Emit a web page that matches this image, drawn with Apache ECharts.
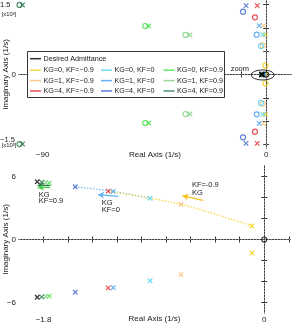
<!DOCTYPE html>
<html><head><meta charset="utf-8">
<script src="https://cdn.jsdelivr.net/npm/echarts@6/dist/echarts.min.js"></script>
<style>html,body{margin:0;padding:0;background:#fff}#c{width:292px;height:326px}</style>
</head><body><div id="c"></div>
<script>
// ---------- DATA (real / imaginary parts in 1/s) ----------
const seriesNames = ['Desired Admittance','KG=0, KF=−0.9','KG=1, KF=−0.9','KG=4, KF=−0.9','KG=0, KF=0','KG=1, KF=0','KG=4, KF=0','KG=0, KF=0.9','KG=1, KF=0.9','KG=4, KF=0.9'];
// poles (x markers)
const polesDesired = [[-1.851, 5.5], [-1.851, -5.5]];
const polesKG0KFm09 = [[-0.3, 856], [-0.3, -856], [-0.1, 1.29], [-0.1, -1.29]];
const polesKG1KFm09 = [[-1.1, 1050], [-1.1, -1050], [-0.679, 3.35], [-0.679, -3.35]];
const polesKG4KFm09 = [[-3.6, 1480], [-3.6, -1480], [-1.272, 4.6], [-1.272, -4.6]];
const polesKG0KF0 = [[-1.3, 856], [-1.3, -856], [-0.931, 3.93], [-0.931, -3.93]];
const polesKG1KF0 = [[-2.8, 1050], [-2.8, -1050], [-1.231, 4.58], [-1.231, -4.58]];
const polesKG4KF0 = [[-8.1, 1480], [-8.1, -1480], [-1.541, 5.02], [-1.541, -5.02]];
const polesKG0KF09 = [[-47.3, 1043], [-47.3, -1043], [-1.753, 5.4], [-1.753, -5.4]];
const polesKG1KF09 = [[-30.7, 850], [-30.7, -850], [-1.782, 5.43], [-1.782, -5.43]];
const polesKG4KF09 = [[-98.1, 1495], [-98.1, -1495], [-1.815, 5.46], [-1.815, -5.46]];
// zeros (o markers)
const zerosDesired = [[0, 0]];
const zerosKG0KFm09 = [[-0.3, 190], [-0.3, -190]];
const zerosKG1KFm09 = [[-1.4, 630], [-1.4, -630]];
const zerosKG4KFm09 = [[-4.5, 1230], [-4.5, -1230]];
const zerosKG0KF0 = [[-2.1, 610], [-2.1, -610]];
const zerosKG1KF0 = [[-3.8, 856], [-3.8, -856]];
const zerosKG4KF0 = [[-9.3, 1350], [-9.3, -1350]];
const zerosKG0KF09 = [[-48.7, 1043], [-48.7, -1043]];
const zerosKG1KF09 = [[-32.5, 850], [-32.5, -850]];
const zerosKG4KF09 = [[-99.3, 1495], [-99.3, -1495]];
// dotted KG trajectories (zoomed plot)
const locusKFm09 = [[-1.272, 4.6], [-0.679, 3.35], [-0.1, 1.29]];
const locusKF0 = [[-1.541, 5.02], [-1.231, 4.58], [-0.931, 3.93]];
// arrows [from, to] in data units (zoomed plot)
const arrowKF09a = [[-1.745, 5.15], [-1.848, 5.15]];
const arrowKF09b = [[-1.745, 4.95], [-1.848, 4.95]];
const arrowKF0 = [[-1.19, 4.11], [-1.355, 4.27]];
const arrowKFm09 = [[-0.5, 3.73], [-0.667, 4.17]];
// tick values
const topXTicks = [-90, -80, -70, -60, -50, -40, -30, -20, -10, 0];
const topXLabels = [-90, 0];
const topYTicks = [-1500, -1000, -500, 0, 500, 1000, 1500];
const topYLabels = [0];
const topYEdgeLabels = [1500, -1500];
const botXTicks = [-1.8, -1.6, -1.4, -1.2, -1.0, -0.8, -0.6, -0.4, -0.2, 0, 0.2];
const botXLabels = [-1.8, 0];
const botYTicks = [-6, -4, -2, 0, 2, 4, 6];
const botYLabels = [-6, 0, 6];

const polesAll = [polesDesired, polesKG0KFm09, polesKG1KFm09, polesKG4KFm09, polesKG0KF0, polesKG1KF0, polesKG4KF0, polesKG0KF09, polesKG1KF09, polesKG4KF09];
const zerosAll = [zerosDesired, zerosKG0KFm09, zerosKG1KFm09, zerosKG4KFm09, zerosKG0KF0, zerosKG1KF0, zerosKG4KF0, zerosKG0KF09, zerosKG1KF09, zerosKG4KF09];

// ---------- STYLE ----------
const COLORS = ['#000000','#f3cf0c','#f7be70','#e3242b','#4fd2f2','#3d9cf0','#3a62cc','#3fe03f','#82cf82','#23784a'];
const FONT = 'Liberation Sans, Arial, sans-serif';
const AX = '#3a3a3a';
const TXT = '#1a1a1a';
const CROSS = 'path://M0,0L10,10M10,0L0,10';

const chart = echarts.init(document.getElementById('c'), null, {renderer: 'canvas'});

function fmtNum(v) { return (v < 0 ? '−' : '') + String(Math.abs(v)); }

function axisCommon(extra) {
  return Object.assign({
    axisLine: {show: true, lineStyle: {color: AX, width: 1}},
    splitLine: {show: false},
    axisLabel: {show: false},
    nameMoveOverlap: false,
    axisTick: {show: true, inside: true, length: 3, lineStyle: {color: AX, width: 1}}
  }, extra);
}
const nameStyle = {fontSize: 8, fontFamily: FONT, color: TXT};

const xAxes = [
  axisCommon({type: 'value', gridIndex: 0, position: 'bottom', min: -99.5, max: 10,
    axisTick: {show: true, inside: true, length: 3, lineStyle: {color: AX}, customValues: topXTicks},
    axisLabel: {show: true, customValues: topXLabels, formatter: fmtNum, fontSize: 8, fontFamily: FONT, color: TXT, margin: 3},
    name: 'Real Axis (1/s)', nameLocation: 'middle', nameGap: 3, nameTextStyle: Object.assign({verticalAlign: 'top'}, nameStyle)}),
  axisCommon({type: 'value', gridIndex: 1, position: 'bottom', min: -2, max: 0.21,
    axisTick: {show: true, inside: true, length: 3, lineStyle: {color: AX}, customValues: botXTicks},
    axisLabel: {show: true, customValues: botXLabels, formatter: fmtNum, fontSize: 8, fontFamily: FONT, color: TXT, margin: 3},
    name: 'Real Axis (1/s)', nameLocation: 'middle', nameGap: 2, nameTextStyle: Object.assign({verticalAlign: 'top'}, nameStyle)}),
  axisCommon({type: 'value', gridIndex: 0, position: 'top', min: -99.5, max: 10,
    axisTick: {show: true, inside: true, length: 3, lineStyle: {color: AX}, customValues: topXTicks}}),
  axisCommon({type: 'value', gridIndex: 1, position: 'top', min: -2, max: 0.21,
    axisTick: {show: true, inside: true, length: 3, lineStyle: {color: AX}, customValues: botXTicks}})
];
const yAxes = [
  axisCommon({type: 'value', gridIndex: 0, position: 'left', min: -1580, max: 1580,
    axisTick: {show: true, inside: true, length: 3, lineStyle: {color: AX}, customValues: topYTicks},
    axisLabel: {show: true, customValues: topYLabels, fontSize: 8, fontFamily: FONT, color: TXT, margin: 3},
    name: 'Imaginary Axis (1/s)', nameLocation: 'middle', nameGap: 9, nameTextStyle: nameStyle}),
  axisCommon({type: 'value', gridIndex: 1, position: 'left', min: -7, max: 7,
    axisTick: {show: true, inside: true, length: 3, lineStyle: {color: AX}, customValues: botYTicks},
    axisLabel: {show: true, customValues: botYLabels, formatter: fmtNum, fontSize: 8, fontFamily: FONT, color: TXT, margin: 3},
    name: 'Imaginary Axis (1/s)', nameLocation: 'middle', nameGap: 9, nameTextStyle: nameStyle}),
  axisCommon({type: 'value', gridIndex: 0, position: 'right', min: -1580, max: 1580,
    axisTick: {show: true, inside: true, length: 3, lineStyle: {color: AX}, customValues: topYTicks}}),
  axisCommon({type: 'value', gridIndex: 1, position: 'right', min: -7, max: 7,
    axisTick: {show: true, inside: true, length: 3, lineStyle: {color: AX}, customValues: botYTicks}})
];

const series = [];
// dotted zero lines
[0, 1].forEach(g => {
  series.push({type: 'line', xAxisIndex: g, yAxisIndex: g, data: [], z: 1, silent: true,
    markLine: {silent: true, symbol: ['none', 'none'], label: {show: false},
      lineStyle: {color: '#9a9a9a', type: [1.2, 1.8], width: 1},
      data: [{xAxis: 0}, {yAxis: 0}]}});
});
// KG trajectories
series.push({type: 'line', xAxisIndex: 1, yAxisIndex: 1, data: locusKF0, smooth: 0.3, symbol: 'none', z: 1, silent: true,
  lineStyle: {color: '#5db3f2', width: 1.2, type: [1.3, 1.7]}});
series.push({type: 'line', xAxisIndex: 1, yAxisIndex: 1, data: locusKFm09, smooth: 0.3, symbol: 'none', z: 1, silent: true,
  lineStyle: {color: '#f5cf1a', width: 1.2, type: [1.3, 1.7]}});
// poles and zeros in both plots
[0, 1].forEach(g => {
  seriesNames.forEach((name, i) => {
    series.push({type: 'scatter', name, xAxisIndex: g, yAxisIndex: g, data: zerosAll[i], clip: false,
      symbol: 'circle', symbolSize: 5, z: 3 + (i === 0 ? 2 : 0),
      itemStyle: {color: 'none', borderColor: COLORS[i], borderWidth: 1.2}});
    series.push({type: 'scatter', name, xAxisIndex: g, yAxisIndex: g, data: polesAll[i], clip: false,
      symbol: CROSS, symbolSize: 4.5, z: 3 + (i === 0 ? 2 : 0),
      itemStyle: {color: 'none', borderColor: COLORS[i], borderWidth: 1.2}});
  });
});
// arrows
function arrowSeries(arr, color) {
  return {type: 'line', xAxisIndex: 1, yAxisIndex: 1, data: [], z: 4, silent: true,
    markLine: {silent: true, symbol: ['none', 'arrow'], symbolSize: [5, 6], label: {show: false},
      lineStyle: {color, width: 1.3, type: 'solid'},
      data: [[{coord: arr[0]}, {coord: arr[1]}]]}};
}
series.push(arrowSeries(arrowKF09a, '#23784a'));
series.push(arrowSeries(arrowKF09b, '#4fd24f'));
series.push(arrowSeries(arrowKF0, '#5db3f2'));
series.push(arrowSeries(arrowKFm09, '#f3c21a'));

const legendText = {fontSize: 7.2, fontFamily: FONT, color: TXT, lineHeight: 10.4, padding: [0, 0, 0, -2.5]};
function legendCol(names, idxs, left, top) {
  return {orient: 'vertical', left, top, itemGap: 0, itemWidth: 11, itemHeight: 1.5, icon: 'rect',
    selectedMode: false, textStyle: legendText, z: 10, padding: 0,
    data: names.map((n, k) => ({name: n, itemStyle: {color: COLORS[idxs[k]], borderWidth: 0}}))};
}
const legends = [
  legendCol([seriesNames[0]], [0], 30, 53.5),
  legendCol([seriesNames[1], seriesNames[2], seriesNames[3]], [1, 2, 3], 30, 65),
  legendCol([seriesNames[4], seriesNames[5], seriesNames[6]], [4, 5, 6], 101, 65),
  legendCol([seriesNames[7], seriesNames[8], seriesNames[9]], [7, 8, 9], 163.5, 65)
];

chart.setOption({
  animation: false,
  backgroundColor: '#fff',
  textStyle: {fontFamily: FONT},
  grid: [
    {left: 19, top: 1, width: 272, height: 147, containLabel: false, outerBoundsMode: 'none'},
    {left: 19, top: 166, width: 271, height: 147, containLabel: false, outerBoundsMode: 'none'}
  ],
  xAxis: xAxes,
  yAxis: yAxes,
  legend: legends,
  series
});

// ---------- annotations placed through the axes ----------
function P(g, x, y) { return chart.convertToPixel({xAxisIndex: g, yAxisIndex: g}, [x, y]); }
const notes = [
  {g: 1, at: [-1.838, 4.27], text: 'KG'}, {g: 1, at: [-1.838, 3.64], text: 'KF=0.9'},
  {g: 1, at: [-1.325, 3.48], text: 'KG'}, {g: 1, at: [-1.325, 2.84], text: 'KF=0'},
  {g: 1, at: [-0.59, 5.16], text: 'KF=-0.9'}, {g: 1, at: [-0.59, 4.43], text: 'KG'}
];
const graphics = [];
notes.forEach(n => {
  const p = P(n.g, n.at[0], n.at[1]);
  graphics.push({type: 'text', x: p[0], y: p[1], z: 20,
    style: {text: n.text, fill: TXT, font: '7.5px ' + FONT, textAlign: 'left', textVerticalAlign: 'middle'}});
});
const zp = P(0, -6.9, 112);
graphics.push({type: 'text', x: zp[0], y: zp[1], z: 20,
  style: {text: 'zoom', fill: TXT, font: '7.5px ' + FONT, textAlign: 'right', textVerticalAlign: 'middle'}});
const ec = P(0, -1.4, -10);
graphics.push({type: 'ellipse', z: 20, shape: {cx: ec[0], cy: ec[1], rx: 11.5, ry: 5},
  style: {fill: 'none', stroke: '#111', lineWidth: 0.9}});
// edge tick labels of the top plot with their exponent
topYEdgeLabels.forEach(v => {
  const p = P(0, -99.5, v);
  const up = v > 0 ? 0 : -4;
  graphics.push({type: 'text', x: p[0] - 19, y: p[1] + up, z: 20,
    style: {text: fmtNum(v / 1000), fill: TXT, font: '7.5px ' + FONT, textAlign: 'left', textVerticalAlign: 'middle'}});
  graphics.push({type: 'text', x: p[0] - 10, y: p[1] + (v > 0 ? 9.5 : 1.5), z: 20,
    style: {text: '[x10³]', fill: TXT, font: '5.8px ' + FONT, textAlign: 'center', textVerticalAlign: 'middle'}});
});
graphics.push({type: 'rect', z: 8, shape: {x: 27.5, y: 51.5, width: 197, height: 46},
  style: {fill: '#fff', stroke: '#333', lineWidth: 1}});
chart.setOption({graphic: graphics});
</script>
</body></html>
